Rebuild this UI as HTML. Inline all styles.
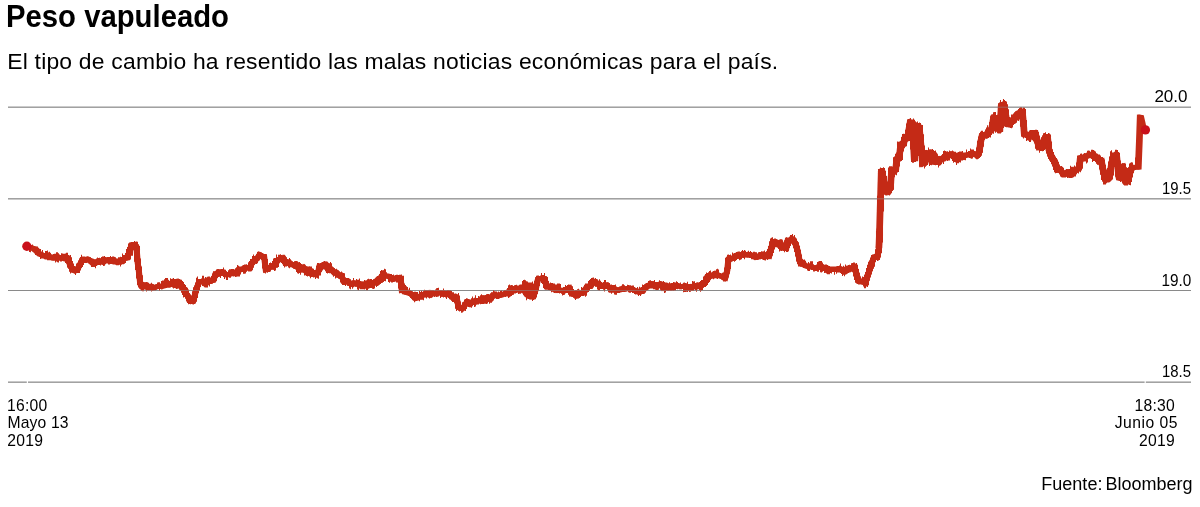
<!DOCTYPE html>
<html lang="es"><head><meta charset="utf-8"><title>Peso vapuleado</title>
<style>
html,body{margin:0;padding:0;background:#fff}
body{width:1200px;height:507px;overflow:hidden;font-family:"Liberation Sans",sans-serif}
svg{display:block}
text{font-family:"Liberation Sans",sans-serif;fill:#000}
.t{font-size:30.5px;font-weight:bold}
.s{font-size:22.9px}
.a{font-size:15.7px}
.f{font-size:18px;word-spacing:-2px}
</style></head><body>
<svg width="1200" height="507" viewBox="0 0 1200 507">
<rect width="1200" height="507" fill="#fff"/>
<text class="t" x="6" y="27" textLength="223" lengthAdjust="spacingAndGlyphs">Peso vapuleado</text>
<text class="s" x="7.2" y="68.8" textLength="771" lengthAdjust="spacing">El tipo de cambio ha resentido las malas noticias económicas para el país.</text>
<g class="a" text-anchor="end">
<text x="1187.6" y="102.3" textLength="33.2" lengthAdjust="spacingAndGlyphs">20.0</text>
<text x="1191" y="194" textLength="29" lengthAdjust="spacingAndGlyphs">19.5</text>
<text x="1191.2" y="285.6" textLength="29.8" lengthAdjust="spacingAndGlyphs">19.0</text>
<text x="1191" y="377.3" textLength="29" lengthAdjust="spacingAndGlyphs">18.5</text>
<text x="1174.7" y="410.8" textLength="40.1" lengthAdjust="spacing">18:30</text>
<text x="1177.4" y="428.4" textLength="62.7" lengthAdjust="spacing">Junio 05</text>
<text x="1174.7" y="446.2" textLength="35.6" lengthAdjust="spacing">2019</text>
</g>
<g class="a">
<text x="6.9" y="410.5" textLength="40.4" lengthAdjust="spacing">16:00</text>
<text x="7.5" y="428.3" textLength="61" lengthAdjust="spacing">Mayo 13</text>
<text x="7.3" y="446.2" textLength="35.6" lengthAdjust="spacing">2019</text>
</g>
<text class="f" x="1192.6" y="490" text-anchor="end" textLength="151.3" lengthAdjust="spacing">Fuente: Bloomberg</text>
<g fill="#8a8a8a">
<rect x="8" y="106.68" width="1183" height="1"/>
<rect x="8" y="198.33" width="1183" height="1"/>
<rect x="8" y="290" width="1183" height="1"/>
<rect x="8" y="381.66" width="1183" height="1"/>
</g>
<g fill="none" stroke="#c42a16" stroke-width="4.4" stroke-linejoin="miter" stroke-miterlimit="2">
<path d="M26.8 246.3L28.2 246.6L29.7 247.4L31.1 247.5L33.1 248.4L35.1 248.9L37.1 251.2L39.1 253.9L40.8 254.3L42.4 255.5L44.1 255.8L45.6 256.3L47.2 256.5L48.7 255.5L50.2 257.7L51.9 257.8L53.5 258.1L55.2 256.8L57.0 256.8L58.8 257.4L60.5 257.7L62.3 258.3L63.8 258.2L65.3 258.7L66.8 258.0L68.3 258.8L70.3 266.1L71.8 267.8L73.3 270.2L75.3 269.8L77.3 269.9L78.8 266.5L80.4 264.0L82.4 259.5L83.9 259.5L85.4 260.1L86.9 259.8L88.4 259.3L90.4 260.7L92.4 262.8L93.8 263.9L95.1 262.2L96.5 262.8L98.0 262.5L99.5 260.7L101.0 261.5L102.5 262.1L104.1 259.4L105.7 260.5L107.3 260.4L108.9 259.7L110.5 260.5L112.0 260.3L113.5 259.5L115.1 261.5L116.6 261.6L118.1 261.7L119.6 261.9L121.1 261.0L122.6 260.7L124.6 258.1L126.6 258.1L128.1 254.7L129.7 252.0L131.2 245.7L133.0 245.3L134.7 245.6L136.5 247.0L137.7 262.7L138.6 268.8L140.1 282.3L141.6 285.0L143.1 286.1L144.8 284.8L146.4 285.1L148.1 287.5L149.7 286.5L151.3 286.2L153.0 287.6L154.6 287.6L156.2 286.8L157.8 286.5L159.4 286.2L161.0 286.7L162.6 285.6L164.2 285.1L165.7 284.7L167.2 282.8L168.7 284.5L170.2 283.9L171.7 283.6L173.2 281.7L174.8 282.7L176.3 283.8L177.8 281.8L179.3 283.1L181.3 285.9L183.3 287.9L185.3 292.1L187.3 295.3L188.9 297.7L190.4 300.4L191.9 300.8L193.4 300.4L194.9 295.0L196.4 289.1L197.9 285.1L199.4 281.4L201.2 281.5L202.9 281.0L204.7 282.7L206.5 283.3L208.2 281.4L210.0 280.2L211.8 280.6L213.5 280.1L215.5 274.0L217.2 274.5L218.8 272.0L220.5 273.0L222.0 271.6L223.6 272.5L225.1 274.1L226.6 274.9L228.1 274.6L229.6 274.0L231.1 273.7L232.6 273.5L234.1 273.7L235.6 273.0L237.0 272.0L238.3 270.9L239.7 269.1L241.2 269.3L242.7 268.8L244.2 269.5L245.7 267.8L247.7 267.6L249.7 268.0L251.1 264.6L253.1 262.1L255.1 259.0L256.6 257.9L258.1 257.5L259.6 254.5L261.1 255.3L262.6 256.3L264.1 256.4L265.7 269.2L267.2 268.1L268.7 268.3L270.2 267.3L271.9 265.7L273.5 266.7L275.2 264.4L276.7 261.7L278.2 259.6L279.9 259.4L281.6 259.6L283.3 258.0L284.8 260.7L286.3 263.4L287.9 262.1L289.5 263.3L291.1 264.5L292.7 264.8L294.3 265.7L295.7 264.5L297.0 266.7L298.4 267.8L300.1 268.9L301.9 269.7L303.6 267.6L305.4 270.4L307.1 269.2L308.7 271.5L310.4 270.6L312.1 272.8L313.8 274.6L315.5 274.6L316.8 273.6L318.0 272.8L319.5 266.1L321.0 265.8L322.5 266.7L324.0 266.1L325.5 264.9L327.2 268.0L328.8 266.9L330.5 269.8L332.0 270.1L333.6 271.5L335.1 273.1L336.6 273.9L338.3 275.3L339.9 274.9L341.6 276.1L343.1 279.6L344.6 281.5L346.1 281.2L347.6 281.1L349.2 283.4L350.7 283.3L352.5 284.3L354.2 282.9L356.0 284.1L357.8 283.5L359.6 285.2L361.3 286.0L363.1 284.4L364.9 286.1L366.6 285.6L368.4 284.6L370.1 283.1L371.8 284.8L373.5 282.9L375.2 281.6L377.2 280.4L379.2 278.4L381.2 277.5L383.2 273.8L384.9 275.6L386.5 276.0L388.2 276.2L389.7 277.1L391.2 278.9L392.9 279.5L394.6 278.5L396.3 278.2L397.7 279.5L399.2 278.6L400.6 277.5L401.8 290.1L403.3 289.5L404.8 292.1L406.3 292.4L407.7 292.1L409.0 292.9L410.4 293.8L412.4 295.0L414.4 297.7L416.1 296.5L417.7 297.1L419.4 297.3L421.1 296.7L422.7 294.4L424.4 294.9L426.0 292.7L427.6 293.2L429.2 292.5L430.7 294.7L432.3 292.9L433.9 293.8L435.5 293.6L437.2 293.2L438.8 292.3L440.5 292.4L442.0 293.9L443.6 293.0L445.1 293.7L446.6 294.5L448.3 294.7L449.9 295.1L451.6 296.8L453.3 298.3L454.9 296.6L456.6 297.8L458.7 307.5L460.2 308.4L461.7 308.3L463.5 307.6L464.8 305.4L466.0 303.4L467.5 302.3L469.1 302.7L470.6 303.6L472.1 302.3L473.7 301.6L475.3 301.3L476.9 300.4L478.5 301.0L480.1 299.8L481.7 300.6L483.3 298.3L485.0 299.7L486.6 298.6L488.2 297.2L489.9 298.6L491.7 297.2L493.4 295.2L495.2 295.5L497.0 295.9L498.8 294.9L500.5 295.3L502.3 294.8L503.8 294.1L505.3 293.2L506.8 293.3L508.3 292.2L509.8 291.3L511.3 288.6L512.8 290.0L514.3 289.6L516.1 288.5L517.8 288.5L519.6 290.4L521.4 287.8L522.9 288.5L524.4 288.7L525.2 283.4L526.5 294.2L527.8 284.0L529.2 296.2L530.6 283.9L532.0 296.4L533.8 295.5L535.5 290.1L536.8 284.5L538.0 279.0L539.6 278.8L541.2 278.7L542.9 278.0L544.5 278.5L546.5 286.3L548.1 286.5L549.7 286.1L551.4 286.4L553.0 288.9L554.6 288.5L556.6 290.2L558.2 288.5L559.9 290.6L561.5 290.5L563.2 291.4L564.8 290.4L566.4 290.0L568.1 290.5L569.7 288.6L571.7 293.9L573.1 294.3L574.6 294.0L576.0 295.9L577.5 295.8L579.0 293.0L580.6 293.1L582.1 293.4L584.1 291.3L586.1 288.9L588.1 286.2L590.1 286.2L592.1 283.4L593.6 281.7L595.2 281.6L596.7 283.9L598.2 283.3L600.2 286.0L601.9 286.4L603.5 285.3L605.2 286.3L606.9 285.2L608.5 286.9L610.2 288.2L611.7 289.0L613.2 288.4L614.8 289.2L616.3 290.0L617.9 289.8L619.5 289.8L621.1 289.3L622.7 288.7L624.3 289.3L625.9 288.8L627.5 288.3L629.2 288.5L630.8 289.1L632.4 289.1L633.9 290.1L635.4 290.7L636.9 291.6L638.4 292.1L640.4 290.8L642.4 291.5L644.0 289.4L645.5 287.3L647.5 286.0L649.5 285.4L651.0 284.5L652.5 283.9L654.0 285.5L655.5 284.9L657.2 286.2L658.8 284.8L660.5 284.0L661.9 285.5L663.2 288.2L664.6 287.4L666.1 286.7L667.6 287.1L669.1 288.1L670.6 288.1L672.3 287.1L673.9 287.4L675.6 286.1L677.4 285.6L679.2 286.0L680.9 286.8L682.7 286.3L684.4 287.0L686.0 286.0L687.8 286.6L689.5 287.1L691.3 286.2L693.1 287.1L694.9 286.5L696.6 286.5L698.4 285.4L700.1 286.9L702.1 285.2L704.1 283.1L705.7 281.3L707.2 279.8L708.7 277.2L710.2 276.4L711.9 275.9L713.5 274.7L715.2 273.3L716.9 274.7L718.5 275.1L720.2 276.0L721.9 276.5L723.6 276.6L725.3 277.8L727.3 270.3L728.3 260.1L730.3 259.4L732.3 258.4L733.8 258.5L735.3 256.6L736.9 256.3L738.4 256.1L739.9 254.8L741.4 255.3L742.9 253.8L744.4 254.6L746.4 255.0L748.4 254.5L750.4 255.1L752.4 255.9L754.0 255.0L755.6 257.4L757.3 256.4L758.9 256.8L760.5 255.2L762.0 255.7L763.5 254.4L765.0 256.3L766.5 256.3L768.0 254.1L769.4 255.4L771.1 248.2L773.1 242.2L774.9 241.4L776.6 242.1L778.4 242.5L780.1 242.0L782.1 247.1L783.5 247.6L784.8 248.2L786.2 248.6L787.7 240.4L789.5 241.0L791.4 239.1L793.2 239.7L794.5 241.9L795.7 243.9L797.7 251.1L799.7 261.2L801.0 263.1L802.3 264.3L803.8 264.3L805.3 265.7L806.8 266.1L808.3 266.5L809.9 266.9L811.5 266.5L813.1 267.8L814.7 267.8L816.3 267.6L817.8 267.2L819.3 267.6L820.9 266.1L822.4 267.0L823.9 268.5L825.4 268.1L826.9 270.2L828.4 270.9L829.9 269.4L831.4 269.8L832.9 269.4L834.4 269.5L835.9 269.7L837.5 269.2L839.0 268.6L840.5 269.1L842.5 270.2L844.5 271.9L846.5 270.5L848.5 268.7L850.0 267.8L851.5 268.2L853.1 267.5L854.6 266.9L856.6 274.3L858.1 279.2L860.4 281.6L862.1 282.1L863.7 281.5L865.4 283.6L867.0 277.1L868.7 272.5L870.2 267.8L871.7 263.5L873.7 257.7L875.5 257.1L877.2 257.4L878.9 248.2L879.6 228.5"/><path d="M26.8 246.3L28.2 246.6L29.7 247.4L31.1 247.5L33.1 248.4L35.1 248.9L37.1 251.2L39.1 253.9L40.8 254.3L42.4 255.5L44.1 255.8L45.6 256.3L47.2 256.5L48.7 255.5L50.2 257.7L51.9 257.8L53.5 258.1L55.2 256.8L57.0 256.8L58.8 257.4L60.5 257.7L62.3 258.3L63.8 258.2L65.3 258.7L66.8 258.0L68.3 258.8L70.3 266.1L71.8 267.8L73.3 270.2L75.3 269.8L77.3 269.9L78.8 266.5L80.4 264.0L82.4 259.5L83.9 259.5L85.4 260.1L86.9 259.8L88.4 259.3L90.4 260.7L92.4 262.8L93.8 263.9L95.1 262.2L96.5 262.8L98.0 262.5L99.5 260.7L101.0 261.5L102.5 262.1L104.1 259.4L105.7 260.5L107.3 260.4L108.9 259.7L110.5 260.5L112.0 260.3L113.5 259.5L115.1 261.5L116.6 261.6L118.1 261.7L119.6 261.9L121.1 261.0L122.6 260.7L124.6 258.1L126.6 258.1L128.1 254.7L129.7 252.0L131.2 245.7L133.0 245.3L134.7 245.6L136.5 247.0L137.7 262.7L138.6 268.8L140.1 282.3L141.6 285.0L143.1 286.1L144.8 284.8L146.4 285.1L148.1 287.5L149.7 286.5L151.3 286.2L153.0 287.6L154.6 287.6L156.2 286.8L157.8 286.5L159.4 286.2L161.0 286.7L162.6 285.6L164.2 285.1L165.7 284.7L167.2 282.8L168.7 284.5L170.2 283.9L171.7 283.6L173.2 281.7L174.8 282.7L176.3 283.8L177.8 281.8L179.3 283.1L181.3 285.9L183.3 287.9L185.3 292.1L187.3 295.3L188.9 297.7L190.4 300.4L191.9 300.8L193.4 300.4L194.9 295.0L196.4 289.1L197.9 285.1L199.4 281.4L201.2 281.5L202.9 281.0L204.7 282.7L206.5 283.3L208.2 281.4L210.0 280.2L211.8 280.6L213.5 280.1L215.5 274.0L217.2 274.5L218.8 272.0L220.5 273.0L222.0 271.6L223.6 272.5L225.1 274.1L226.6 274.9L228.1 274.6L229.6 274.0L231.1 273.7L232.6 273.5L234.1 273.7L235.6 273.0L237.0 272.0L238.3 270.9L239.7 269.1L241.2 269.3L242.7 268.8L244.2 269.5L245.7 267.8L247.7 267.6L249.7 268.0L251.1 264.6L253.1 262.1L255.1 259.0L256.6 257.9L258.1 257.5L259.6 254.5L261.1 255.3L262.6 256.3L264.1 256.4L265.7 269.2L267.2 268.1L268.7 268.3L270.2 267.3L271.9 265.7L273.5 266.7L275.2 264.4L276.7 261.7L278.2 259.6L279.9 259.4L281.6 259.6L283.3 258.0L284.8 260.7L286.3 263.4L287.9 262.1L289.5 263.3L291.1 264.5L292.7 264.8L294.3 265.7L295.7 264.5L297.0 266.7L298.4 267.8L300.1 268.9L301.9 269.7L303.6 267.6L305.4 270.4L307.1 269.2L308.7 271.5L310.4 270.6L312.1 272.8L313.8 274.6L315.5 274.6L316.8 273.6L318.0 272.8L319.5 266.1L321.0 265.8L322.5 266.7L324.0 266.1L325.5 264.9L327.2 268.0L328.8 266.9L330.5 269.8L332.0 270.1L333.6 271.5L335.1 273.1L336.6 273.9L338.3 275.3L339.9 274.9L341.6 276.1L343.1 279.6L344.6 281.5L346.1 281.2L347.6 281.1L349.2 283.4L350.7 283.3L352.5 284.3L354.2 282.9L356.0 284.1L357.8 283.5L359.6 285.2L361.3 286.0L363.1 284.4L364.9 286.1L366.6 285.6L368.4 284.6L370.1 283.1L371.8 284.8L373.5 282.9L375.2 281.6L377.2 280.4L379.2 278.4L381.2 277.5L383.2 273.8L384.9 275.6L386.5 276.0L388.2 276.2L389.7 277.1L391.2 278.9L392.9 279.5L394.6 278.5L396.3 278.2L397.7 279.5L399.2 278.6L400.6 277.5L401.8 290.1L403.3 289.5L404.8 292.1L406.3 292.4L407.7 292.1L409.0 292.9L410.4 293.8L412.4 295.0L414.4 297.7L416.1 296.5L417.7 297.1L419.4 297.3L421.1 296.7L422.7 294.4L424.4 294.9L426.0 292.7L427.6 293.2L429.2 292.5L430.7 294.7L432.3 292.9L433.9 293.8L435.5 293.6L437.2 293.2L438.8 292.3L440.5 292.4L442.0 293.9L443.6 293.0L445.1 293.7L446.6 294.5L448.3 294.7L449.9 295.1L451.6 296.8L453.3 298.3L454.9 296.6L456.6 297.8L458.7 307.5L460.2 308.4L461.7 308.3L463.5 307.6L464.8 305.4L466.0 303.4L467.5 302.3L469.1 302.7L470.6 303.6L472.1 302.3L473.7 301.6L475.3 301.3L476.9 300.4L478.5 301.0L480.1 299.8L481.7 300.6L483.3 298.3L485.0 299.7L486.6 298.6L488.2 297.2L489.9 298.6L491.7 297.2L493.4 295.2L495.2 295.5L497.0 295.9L498.8 294.9L500.5 295.3L502.3 294.8L503.8 294.1L505.3 293.2L506.8 293.3L508.3 292.2L509.8 291.3L511.3 288.6L512.8 290.0L514.3 289.6L516.1 288.5L517.8 288.5L519.6 290.4L521.4 287.8L522.9 288.5L524.4 288.7L525.2 283.4L526.5 294.2L527.8 284.0L529.2 296.2L530.6 283.9L532.0 296.4L533.8 295.5L535.5 290.1L536.8 284.5L538.0 279.0L539.6 278.8L541.2 278.7L542.9 278.0L544.5 278.5L546.5 286.3L548.1 286.5L549.7 286.1L551.4 286.4L553.0 288.9L554.6 288.5L556.6 290.2L558.2 288.5L559.9 290.6L561.5 290.5L563.2 291.4L564.8 290.4L566.4 290.0L568.1 290.5L569.7 288.6L571.7 293.9L573.1 294.3L574.6 294.0L576.0 295.9L577.5 295.8L579.0 293.0L580.6 293.1L582.1 293.4L584.1 291.3L586.1 288.9L588.1 286.2L590.1 286.2L592.1 283.4L593.6 281.7L595.2 281.6L596.7 283.9L598.2 283.3L600.2 286.0L601.9 286.4L603.5 285.3L605.2 286.3L606.9 285.2L608.5 286.9L610.2 288.2L611.7 289.0L613.2 288.4L614.8 289.2L616.3 290.0L617.9 289.8L619.5 289.8L621.1 289.3L622.7 288.7L624.3 289.3L625.9 288.8L627.5 288.3L629.2 288.5L630.8 289.1L632.4 289.1L633.9 290.1L635.4 290.7L636.9 291.6L638.4 292.1L640.4 290.8L642.4 291.5L644.0 289.4L645.5 287.3L647.5 286.0L649.5 285.4L651.0 284.5L652.5 283.9L654.0 285.5L655.5 284.9L657.2 286.2L658.8 284.8L660.5 284.0L661.9 285.5L663.2 288.2L664.6 287.4L666.1 286.7L667.6 287.1L669.1 288.1L670.6 288.1L672.3 287.1L673.9 287.4L675.6 286.1L677.4 285.6L679.2 286.0L680.9 286.8L682.7 286.3L684.4 287.0L686.0 286.0L687.8 286.6L689.5 287.1L691.3 286.2L693.1 287.1L694.9 286.5L696.6 286.5L698.4 285.4L700.1 286.9L702.1 285.2L704.1 283.1L705.7 281.3L707.2 279.8L708.7 277.2L710.2 276.4L711.9 275.9L713.5 274.7L715.2 273.3L716.9 274.7L718.5 275.1L720.2 276.0L721.9 276.5L723.6 276.6L725.3 277.8L727.3 270.3L728.3 260.1L730.3 259.4L732.3 258.4L733.8 258.5L735.3 256.6L736.9 256.3L738.4 256.1L739.9 254.8L741.4 255.3L742.9 253.8L744.4 254.6L746.4 255.0L748.4 254.5L750.4 255.1L752.4 255.9L754.0 255.0L755.6 257.4L757.3 256.4L758.9 256.8L760.5 255.2L762.0 255.7L763.5 254.4L765.0 256.3L766.5 256.3L768.0 254.1L769.4 255.4L771.1 248.2L773.1 242.2L774.9 241.4L776.6 242.1L778.4 242.5L780.1 242.0L782.1 247.1L783.5 247.6L784.8 248.2L786.2 248.6L787.7 240.4L789.5 241.0L791.4 239.1L793.2 239.7L794.5 241.9L795.7 243.9L797.7 251.1L799.7 261.2L801.0 263.1L802.3 264.3L803.8 264.3L805.3 265.7L806.8 266.1L808.3 266.5L809.9 266.9L811.5 266.5L813.1 267.8L814.7 267.8L816.3 267.6L817.8 267.2L819.3 267.6L820.9 266.1L822.4 267.0L823.9 268.5L825.4 268.1L826.9 270.2L828.4 270.9L829.9 269.4L831.4 269.8L832.9 269.4L834.4 269.5L835.9 269.7L837.5 269.2L839.0 268.6L840.5 269.1L842.5 270.2L844.5 271.9L846.5 270.5L848.5 268.7L850.0 267.8L851.5 268.2L853.1 267.5L854.6 266.9L856.6 274.3L858.1 279.2L860.4 281.6L862.1 282.1L863.7 281.5L865.4 283.6L867.0 277.1L868.7 272.5L870.2 267.8L871.7 263.5L873.7 257.7L875.5 257.1L877.2 257.4L878.9 248.2L879.6 228.5" transform="translate(-0.85 0)"/><path d="M26.8 246.3L28.2 246.6L29.7 247.4L31.1 247.5L33.1 248.4L35.1 248.9L37.1 251.2L39.1 253.9L40.8 254.3L42.4 255.5L44.1 255.8L45.6 256.3L47.2 256.5L48.7 255.5L50.2 257.7L51.9 257.8L53.5 258.1L55.2 256.8L57.0 256.8L58.8 257.4L60.5 257.7L62.3 258.3L63.8 258.2L65.3 258.7L66.8 258.0L68.3 258.8L70.3 266.1L71.8 267.8L73.3 270.2L75.3 269.8L77.3 269.9L78.8 266.5L80.4 264.0L82.4 259.5L83.9 259.5L85.4 260.1L86.9 259.8L88.4 259.3L90.4 260.7L92.4 262.8L93.8 263.9L95.1 262.2L96.5 262.8L98.0 262.5L99.5 260.7L101.0 261.5L102.5 262.1L104.1 259.4L105.7 260.5L107.3 260.4L108.9 259.7L110.5 260.5L112.0 260.3L113.5 259.5L115.1 261.5L116.6 261.6L118.1 261.7L119.6 261.9L121.1 261.0L122.6 260.7L124.6 258.1L126.6 258.1L128.1 254.7L129.7 252.0L131.2 245.7L133.0 245.3L134.7 245.6L136.5 247.0L137.7 262.7L138.6 268.8L140.1 282.3L141.6 285.0L143.1 286.1L144.8 284.8L146.4 285.1L148.1 287.5L149.7 286.5L151.3 286.2L153.0 287.6L154.6 287.6L156.2 286.8L157.8 286.5L159.4 286.2L161.0 286.7L162.6 285.6L164.2 285.1L165.7 284.7L167.2 282.8L168.7 284.5L170.2 283.9L171.7 283.6L173.2 281.7L174.8 282.7L176.3 283.8L177.8 281.8L179.3 283.1L181.3 285.9L183.3 287.9L185.3 292.1L187.3 295.3L188.9 297.7L190.4 300.4L191.9 300.8L193.4 300.4L194.9 295.0L196.4 289.1L197.9 285.1L199.4 281.4L201.2 281.5L202.9 281.0L204.7 282.7L206.5 283.3L208.2 281.4L210.0 280.2L211.8 280.6L213.5 280.1L215.5 274.0L217.2 274.5L218.8 272.0L220.5 273.0L222.0 271.6L223.6 272.5L225.1 274.1L226.6 274.9L228.1 274.6L229.6 274.0L231.1 273.7L232.6 273.5L234.1 273.7L235.6 273.0L237.0 272.0L238.3 270.9L239.7 269.1L241.2 269.3L242.7 268.8L244.2 269.5L245.7 267.8L247.7 267.6L249.7 268.0L251.1 264.6L253.1 262.1L255.1 259.0L256.6 257.9L258.1 257.5L259.6 254.5L261.1 255.3L262.6 256.3L264.1 256.4L265.7 269.2L267.2 268.1L268.7 268.3L270.2 267.3L271.9 265.7L273.5 266.7L275.2 264.4L276.7 261.7L278.2 259.6L279.9 259.4L281.6 259.6L283.3 258.0L284.8 260.7L286.3 263.4L287.9 262.1L289.5 263.3L291.1 264.5L292.7 264.8L294.3 265.7L295.7 264.5L297.0 266.7L298.4 267.8L300.1 268.9L301.9 269.7L303.6 267.6L305.4 270.4L307.1 269.2L308.7 271.5L310.4 270.6L312.1 272.8L313.8 274.6L315.5 274.6L316.8 273.6L318.0 272.8L319.5 266.1L321.0 265.8L322.5 266.7L324.0 266.1L325.5 264.9L327.2 268.0L328.8 266.9L330.5 269.8L332.0 270.1L333.6 271.5L335.1 273.1L336.6 273.9L338.3 275.3L339.9 274.9L341.6 276.1L343.1 279.6L344.6 281.5L346.1 281.2L347.6 281.1L349.2 283.4L350.7 283.3L352.5 284.3L354.2 282.9L356.0 284.1L357.8 283.5L359.6 285.2L361.3 286.0L363.1 284.4L364.9 286.1L366.6 285.6L368.4 284.6L370.1 283.1L371.8 284.8L373.5 282.9L375.2 281.6L377.2 280.4L379.2 278.4L381.2 277.5L383.2 273.8L384.9 275.6L386.5 276.0L388.2 276.2L389.7 277.1L391.2 278.9L392.9 279.5L394.6 278.5L396.3 278.2L397.7 279.5L399.2 278.6L400.6 277.5L401.8 290.1L403.3 289.5L404.8 292.1L406.3 292.4L407.7 292.1L409.0 292.9L410.4 293.8L412.4 295.0L414.4 297.7L416.1 296.5L417.7 297.1L419.4 297.3L421.1 296.7L422.7 294.4L424.4 294.9L426.0 292.7L427.6 293.2L429.2 292.5L430.7 294.7L432.3 292.9L433.9 293.8L435.5 293.6L437.2 293.2L438.8 292.3L440.5 292.4L442.0 293.9L443.6 293.0L445.1 293.7L446.6 294.5L448.3 294.7L449.9 295.1L451.6 296.8L453.3 298.3L454.9 296.6L456.6 297.8L458.7 307.5L460.2 308.4L461.7 308.3L463.5 307.6L464.8 305.4L466.0 303.4L467.5 302.3L469.1 302.7L470.6 303.6L472.1 302.3L473.7 301.6L475.3 301.3L476.9 300.4L478.5 301.0L480.1 299.8L481.7 300.6L483.3 298.3L485.0 299.7L486.6 298.6L488.2 297.2L489.9 298.6L491.7 297.2L493.4 295.2L495.2 295.5L497.0 295.9L498.8 294.9L500.5 295.3L502.3 294.8L503.8 294.1L505.3 293.2L506.8 293.3L508.3 292.2L509.8 291.3L511.3 288.6L512.8 290.0L514.3 289.6L516.1 288.5L517.8 288.5L519.6 290.4L521.4 287.8L522.9 288.5L524.4 288.7L525.2 283.4L526.5 294.2L527.8 284.0L529.2 296.2L530.6 283.9L532.0 296.4L533.8 295.5L535.5 290.1L536.8 284.5L538.0 279.0L539.6 278.8L541.2 278.7L542.9 278.0L544.5 278.5L546.5 286.3L548.1 286.5L549.7 286.1L551.4 286.4L553.0 288.9L554.6 288.5L556.6 290.2L558.2 288.5L559.9 290.6L561.5 290.5L563.2 291.4L564.8 290.4L566.4 290.0L568.1 290.5L569.7 288.6L571.7 293.9L573.1 294.3L574.6 294.0L576.0 295.9L577.5 295.8L579.0 293.0L580.6 293.1L582.1 293.4L584.1 291.3L586.1 288.9L588.1 286.2L590.1 286.2L592.1 283.4L593.6 281.7L595.2 281.6L596.7 283.9L598.2 283.3L600.2 286.0L601.9 286.4L603.5 285.3L605.2 286.3L606.9 285.2L608.5 286.9L610.2 288.2L611.7 289.0L613.2 288.4L614.8 289.2L616.3 290.0L617.9 289.8L619.5 289.8L621.1 289.3L622.7 288.7L624.3 289.3L625.9 288.8L627.5 288.3L629.2 288.5L630.8 289.1L632.4 289.1L633.9 290.1L635.4 290.7L636.9 291.6L638.4 292.1L640.4 290.8L642.4 291.5L644.0 289.4L645.5 287.3L647.5 286.0L649.5 285.4L651.0 284.5L652.5 283.9L654.0 285.5L655.5 284.9L657.2 286.2L658.8 284.8L660.5 284.0L661.9 285.5L663.2 288.2L664.6 287.4L666.1 286.7L667.6 287.1L669.1 288.1L670.6 288.1L672.3 287.1L673.9 287.4L675.6 286.1L677.4 285.6L679.2 286.0L680.9 286.8L682.7 286.3L684.4 287.0L686.0 286.0L687.8 286.6L689.5 287.1L691.3 286.2L693.1 287.1L694.9 286.5L696.6 286.5L698.4 285.4L700.1 286.9L702.1 285.2L704.1 283.1L705.7 281.3L707.2 279.8L708.7 277.2L710.2 276.4L711.9 275.9L713.5 274.7L715.2 273.3L716.9 274.7L718.5 275.1L720.2 276.0L721.9 276.5L723.6 276.6L725.3 277.8L727.3 270.3L728.3 260.1L730.3 259.4L732.3 258.4L733.8 258.5L735.3 256.6L736.9 256.3L738.4 256.1L739.9 254.8L741.4 255.3L742.9 253.8L744.4 254.6L746.4 255.0L748.4 254.5L750.4 255.1L752.4 255.9L754.0 255.0L755.6 257.4L757.3 256.4L758.9 256.8L760.5 255.2L762.0 255.7L763.5 254.4L765.0 256.3L766.5 256.3L768.0 254.1L769.4 255.4L771.1 248.2L773.1 242.2L774.9 241.4L776.6 242.1L778.4 242.5L780.1 242.0L782.1 247.1L783.5 247.6L784.8 248.2L786.2 248.6L787.7 240.4L789.5 241.0L791.4 239.1L793.2 239.7L794.5 241.9L795.7 243.9L797.7 251.1L799.7 261.2L801.0 263.1L802.3 264.3L803.8 264.3L805.3 265.7L806.8 266.1L808.3 266.5L809.9 266.9L811.5 266.5L813.1 267.8L814.7 267.8L816.3 267.6L817.8 267.2L819.3 267.6L820.9 266.1L822.4 267.0L823.9 268.5L825.4 268.1L826.9 270.2L828.4 270.9L829.9 269.4L831.4 269.8L832.9 269.4L834.4 269.5L835.9 269.7L837.5 269.2L839.0 268.6L840.5 269.1L842.5 270.2L844.5 271.9L846.5 270.5L848.5 268.7L850.0 267.8L851.5 268.2L853.1 267.5L854.6 266.9L856.6 274.3L858.1 279.2L860.4 281.6L862.1 282.1L863.7 281.5L865.4 283.6L867.0 277.1L868.7 272.5L870.2 267.8L871.7 263.5L873.7 257.7L875.5 257.1L877.2 257.4L878.9 248.2L879.6 228.5" transform="translate(0.85 0)"/>
<path d="M878.9 248.2L879.6 228.5L881.3 170.5L882.0 171.4L883.5 179.4L885.1 188.2L887.1 191.9L888.8 189.8L890.4 188.4L891.6 169.9L893.0 171.0L894.3 169.3L895.7 170.3L896.7 159.0L898.0 158.0L899.2 157.8L900.7 144.5L902.2 144.2L903.7 143.6L905.2 136.7L906.5 137.0L907.7 137.1L909.0 128.9L910.2 122.0L912.3 122.9L914.3 160.3L915.8 143.3L917.3 126.0L919.3 127.2L920.9 144.6L922.5 163.7L923.8 162.9L925.0 162.5L926.6 152.9L928.3 153.7L930.0 152.7L932.0 162.8L934.0 153.7L936.0 162.5L938.0 162.7L940.4 158.7L941.9 159.4L943.4 158.4L945.5 155.9L947.2 155.1L948.8 155.5L950.5 154.1L952.1 155.6L953.8 155.4L955.4 159.2L957.0 159.9L958.5 157.3L960.0 156.4L961.6 155.6L963.1 157.0L964.6 155.1L966.1 155.2L967.6 154.8L969.1 154.7L970.6 153.8L972.1 154.7L973.6 153.6L975.1 154.7L976.6 155.0L977.9 153.9L979.2 152.0L980.7 142.0L982.2 135.0L983.8 134.5L985.5 136.0L987.1 135.3L989.1 130.2L990.4 129.6L991.6 129.2L993.6 117.4L995.1 117.3L996.6 117.8L997.6 129.3L999.9 129.6L1001.3 105.1L1003.6 104.1L1005.8 115.1L1007.2 123.8L1008.5 122.3L1009.7 123.8L1011.7 120.2L1013.2 119.3L1014.7 118.4L1016.2 116.0L1017.6 114.2L1019.8 113.0L1021.1 113.7L1022.4 111.9L1023.6 125.0L1024.3 134.5L1026.0 134.4L1027.8 135.0L1029.5 136.9L1030.8 134.5L1032.2 132.9L1033.8 133.4L1035.3 133.0L1037.2 140.3L1039.0 147.5L1040.2 146.9L1041.5 148.5L1043.0 143.9L1044.6 138.9L1045.6 136.8L1047.6 137.4L1048.9 149.9L1050.2 153.7L1051.6 157.5L1053.4 160.0L1055.2 163.2L1057.2 169.2L1058.7 170.4L1060.2 169.4L1061.7 171.9L1063.2 174.0L1064.7 174.2L1066.2 174.2L1068.2 171.9L1070.2 173.3L1071.6 172.5L1072.9 170.2L1074.3 171.8L1075.8 170.1L1077.3 169.5L1079.3 167.5L1080.3 157.8L1082.3 157.7L1084.3 158.7L1086.0 156.5L1087.7 155.5L1089.4 154.6L1091.1 154.7L1092.7 155.9L1094.4 156.9L1095.9 157.7L1097.4 159.4L1099.4 161.8L1101.4 160.8L1103.4 172.0L1105.5 179.4L1107.5 179.2L1109.5 177.5L1111.5 163.9L1113.5 155.2L1115.0 155.3L1116.5 154.1L1118.5 174.2L1119.0 178.2L1120.5 167.3L1122.6 166.1L1123.8 172.7L1125.1 179.2L1127.1 182.1L1128.3 178.1L1129.6 174.1L1131.6 168.4L1133.1 167.1L1134.6 167.3L1136.4 167.3L1138.3 167.3L1139.4 139.9L1140.2 117.0L1140.8 117.1L1142.2 123.1L1143.6 129.9"/><path d="M878.9 248.2L879.6 228.5L881.3 170.5L882.0 171.4L883.5 179.4L885.1 188.2L887.1 191.9L888.8 189.8L890.4 188.4L891.6 169.9L893.0 171.0L894.3 169.3L895.7 170.3L896.7 159.0L898.0 158.0L899.2 157.8L900.7 144.5L902.2 144.2L903.7 143.6L905.2 136.7L906.5 137.0L907.7 137.1L909.0 128.9L910.2 122.0L912.3 122.9L914.3 160.3L915.8 143.3L917.3 126.0L919.3 127.2L920.9 144.6L922.5 163.7L923.8 162.9L925.0 162.5L926.6 152.9L928.3 153.7L930.0 152.7L932.0 162.8L934.0 153.7L936.0 162.5L938.0 162.7L940.4 158.7L941.9 159.4L943.4 158.4L945.5 155.9L947.2 155.1L948.8 155.5L950.5 154.1L952.1 155.6L953.8 155.4L955.4 159.2L957.0 159.9L958.5 157.3L960.0 156.4L961.6 155.6L963.1 157.0L964.6 155.1L966.1 155.2L967.6 154.8L969.1 154.7L970.6 153.8L972.1 154.7L973.6 153.6L975.1 154.7L976.6 155.0L977.9 153.9L979.2 152.0L980.7 142.0L982.2 135.0L983.8 134.5L985.5 136.0L987.1 135.3L989.1 130.2L990.4 129.6L991.6 129.2L993.6 117.4L995.1 117.3L996.6 117.8L997.6 129.3L999.9 129.6L1001.3 105.1L1003.6 104.1L1005.8 115.1L1007.2 123.8L1008.5 122.3L1009.7 123.8L1011.7 120.2L1013.2 119.3L1014.7 118.4L1016.2 116.0L1017.6 114.2L1019.8 113.0L1021.1 113.7L1022.4 111.9L1023.6 125.0L1024.3 134.5L1026.0 134.4L1027.8 135.0L1029.5 136.9L1030.8 134.5L1032.2 132.9L1033.8 133.4L1035.3 133.0L1037.2 140.3L1039.0 147.5L1040.2 146.9L1041.5 148.5L1043.0 143.9L1044.6 138.9L1045.6 136.8L1047.6 137.4L1048.9 149.9L1050.2 153.7L1051.6 157.5L1053.4 160.0L1055.2 163.2L1057.2 169.2L1058.7 170.4L1060.2 169.4L1061.7 171.9L1063.2 174.0L1064.7 174.2L1066.2 174.2L1068.2 171.9L1070.2 173.3L1071.6 172.5L1072.9 170.2L1074.3 171.8L1075.8 170.1L1077.3 169.5L1079.3 167.5L1080.3 157.8L1082.3 157.7L1084.3 158.7L1086.0 156.5L1087.7 155.5L1089.4 154.6L1091.1 154.7L1092.7 155.9L1094.4 156.9L1095.9 157.7L1097.4 159.4L1099.4 161.8L1101.4 160.8L1103.4 172.0L1105.5 179.4L1107.5 179.2L1109.5 177.5L1111.5 163.9L1113.5 155.2L1115.0 155.3L1116.5 154.1L1118.5 174.2L1119.0 178.2L1120.5 167.3L1122.6 166.1L1123.8 172.7L1125.1 179.2L1127.1 182.1L1128.3 178.1L1129.6 174.1L1131.6 168.4L1133.1 167.1L1134.6 167.3L1136.4 167.3L1138.3 167.3L1139.4 139.9L1140.2 117.0L1140.8 117.1L1142.2 123.1L1143.6 129.9" transform="translate(-1.15 0)"/><path d="M878.9 248.2L879.6 228.5L881.3 170.5L882.0 171.4L883.5 179.4L885.1 188.2L887.1 191.9L888.8 189.8L890.4 188.4L891.6 169.9L893.0 171.0L894.3 169.3L895.7 170.3L896.7 159.0L898.0 158.0L899.2 157.8L900.7 144.5L902.2 144.2L903.7 143.6L905.2 136.7L906.5 137.0L907.7 137.1L909.0 128.9L910.2 122.0L912.3 122.9L914.3 160.3L915.8 143.3L917.3 126.0L919.3 127.2L920.9 144.6L922.5 163.7L923.8 162.9L925.0 162.5L926.6 152.9L928.3 153.7L930.0 152.7L932.0 162.8L934.0 153.7L936.0 162.5L938.0 162.7L940.4 158.7L941.9 159.4L943.4 158.4L945.5 155.9L947.2 155.1L948.8 155.5L950.5 154.1L952.1 155.6L953.8 155.4L955.4 159.2L957.0 159.9L958.5 157.3L960.0 156.4L961.6 155.6L963.1 157.0L964.6 155.1L966.1 155.2L967.6 154.8L969.1 154.7L970.6 153.8L972.1 154.7L973.6 153.6L975.1 154.7L976.6 155.0L977.9 153.9L979.2 152.0L980.7 142.0L982.2 135.0L983.8 134.5L985.5 136.0L987.1 135.3L989.1 130.2L990.4 129.6L991.6 129.2L993.6 117.4L995.1 117.3L996.6 117.8L997.6 129.3L999.9 129.6L1001.3 105.1L1003.6 104.1L1005.8 115.1L1007.2 123.8L1008.5 122.3L1009.7 123.8L1011.7 120.2L1013.2 119.3L1014.7 118.4L1016.2 116.0L1017.6 114.2L1019.8 113.0L1021.1 113.7L1022.4 111.9L1023.6 125.0L1024.3 134.5L1026.0 134.4L1027.8 135.0L1029.5 136.9L1030.8 134.5L1032.2 132.9L1033.8 133.4L1035.3 133.0L1037.2 140.3L1039.0 147.5L1040.2 146.9L1041.5 148.5L1043.0 143.9L1044.6 138.9L1045.6 136.8L1047.6 137.4L1048.9 149.9L1050.2 153.7L1051.6 157.5L1053.4 160.0L1055.2 163.2L1057.2 169.2L1058.7 170.4L1060.2 169.4L1061.7 171.9L1063.2 174.0L1064.7 174.2L1066.2 174.2L1068.2 171.9L1070.2 173.3L1071.6 172.5L1072.9 170.2L1074.3 171.8L1075.8 170.1L1077.3 169.5L1079.3 167.5L1080.3 157.8L1082.3 157.7L1084.3 158.7L1086.0 156.5L1087.7 155.5L1089.4 154.6L1091.1 154.7L1092.7 155.9L1094.4 156.9L1095.9 157.7L1097.4 159.4L1099.4 161.8L1101.4 160.8L1103.4 172.0L1105.5 179.4L1107.5 179.2L1109.5 177.5L1111.5 163.9L1113.5 155.2L1115.0 155.3L1116.5 154.1L1118.5 174.2L1119.0 178.2L1120.5 167.3L1122.6 166.1L1123.8 172.7L1125.1 179.2L1127.1 182.1L1128.3 178.1L1129.6 174.1L1131.6 168.4L1133.1 167.1L1134.6 167.3L1136.4 167.3L1138.3 167.3L1139.4 139.9L1140.2 117.0L1140.8 117.1L1142.2 123.1L1143.6 129.9" transform="translate(1.15 0)"/>
</g>
<path d="M29.5 244.4v7.5M30.5 244.8v7.4M31.5 245.1v5.7M32.5 244.5v7.2M33.5 245.8v6.7M34.5 246.1v7.5M35.5 246.4v8.5M36.5 246.6v8.6M37.5 246.6v9.7M38.5 247.7v8.8M39.5 248.8v8.3M40.5 249.1v9.9M41.5 251.5v7.1M42.5 250.1v8.3M43.5 252.5v6.1M44.5 253.1v6.2M45.5 250.9v8.5M46.5 251.0v8.4M47.5 250.6v9.7M48.5 252.5v7.8M49.5 251.8v8.4M50.5 253.1v7.1M51.5 254.4v6.1M52.5 254.4v6.2M53.5 254.0v6.5M54.5 253.8v6.7M55.5 253.8v8.6M56.5 252.2v9.4M57.5 252.2v10.1M58.5 253.3v9.2M59.5 254.6v6.2M60.5 254.9v6.5M61.5 253.2v8.4M62.5 253.5v7.2M63.5 253.7v7.6M64.5 253.7v7.8M65.5 253.6v9.3M66.5 252.8v10.9M67.5 252.8v14.7M68.5 255.0v13.7M69.5 255.4v16.4M70.5 255.0v18.4M71.5 257.3v14.9M72.5 260.9v11.5M73.5 263.4v9.9M74.5 265.9v7.8M75.5 266.4v8.5M76.5 263.4v9.8M77.5 262.8v10.3M78.5 260.6v12.4M79.5 258.6v14.3M80.5 257.0v13.2M81.5 254.7v13.2M82.5 256.6v10.3M83.5 256.6v8.5M84.5 256.6v6.3M85.5 256.7v6.2M86.5 256.5v6.4M87.5 256.3v6.4M88.5 256.6v6.8M89.5 256.9v7.3M90.5 257.3v8.0M91.5 257.9v9.0M92.5 258.6v8.4M93.5 258.7v8.1M94.5 259.3v7.4M95.5 259.3v9.0M96.5 258.6v7.3M97.5 257.6v7.6M98.5 258.0v7.1M99.5 257.8v7.2M100.5 258.6v6.8M101.5 257.0v7.5M102.5 256.7v8.1M103.5 257.2v8.8M104.5 256.1v9.6M105.5 257.0v7.2M106.5 257.3v6.3M107.5 257.0v6.6M108.5 257.0v7.4M109.5 257.0v7.5M110.5 256.1v7.9M111.5 257.1v7.0M112.5 256.5v7.7M113.5 256.5v8.1M114.5 257.3v7.3M115.5 257.5v7.2M116.5 258.4v6.8M117.5 258.5v6.8M118.5 257.3v8.0M119.5 257.3v7.4M120.5 256.8v9.6M121.5 257.1v7.7M122.5 253.4v10.8M123.5 255.1v9.2M124.5 255.0v8.8M125.5 253.0v9.9M126.5 249.0v11.7M127.5 247.1v13.5M128.5 243.4v16.8M129.5 242.6v17.7M130.5 242.3v17.3M131.5 242.0v13.7M132.5 242.0v13.7M133.5 242.0v8.3M134.5 241.1v20.6M135.5 241.7v28.4M136.5 241.6v37.0M137.5 241.7v43.6M138.5 244.3v43.1M139.5 246.1v42.6M140.5 258.6v30.9M141.5 266.6v24.5M142.5 275.3v16.0M143.5 282.1v9.2M144.5 282.4v7.0M145.5 282.4v7.3M146.5 282.1v9.3M147.5 282.3v7.3M148.5 282.7v7.8M149.5 283.8v6.6M150.5 283.7v6.9M151.5 282.7v8.8M152.5 283.9v7.0M153.5 284.3v6.5M154.5 284.7v5.8M155.5 284.4v6.2M156.5 284.2v5.6M157.5 282.4v6.9M158.5 282.3v6.8M159.5 282.3v8.6M160.5 283.7v5.3M161.5 280.9v8.5M162.5 280.6v8.7M163.5 280.4v8.4M164.5 279.2v9.4M165.5 278.0v10.2M166.5 278.1v9.9M167.5 278.1v9.6M168.5 280.4v7.4M169.5 280.9v6.9M170.5 278.2v9.3M171.5 278.9v8.2M172.5 278.7v8.7M173.5 277.9v10.5M174.5 279.1v9.0M175.5 279.1v9.1M176.5 278.9v10.0M177.5 278.8v10.0M178.5 278.8v9.7M179.5 279.0v10.7M180.5 279.6v11.0M181.5 279.8v12.9M182.5 281.1v13.8M183.5 281.9v15.5M184.5 283.9v13.2M185.5 284.9v13.8M186.5 287.1v14.3M187.5 287.7v15.4M188.5 289.6v14.6M189.5 293.0v10.9M190.5 294.6v9.6M191.5 295.6v8.3M192.5 291.2v13.0M193.5 287.3v17.2M194.5 285.4v18.5M195.5 282.5v21.0M196.5 277.8v23.9M197.5 276.6v21.5M198.5 279.1v13.8M199.5 279.0v11.2M200.5 278.9v8.0M201.5 278.6v5.8M202.5 275.8v10.2M203.5 275.8v10.4M204.5 278.5v8.8M205.5 277.1v10.4M206.5 277.4v10.2M207.5 276.7v10.8M208.5 276.6v8.5M209.5 276.5v10.1M210.5 277.5v6.4M211.5 276.1v7.8M212.5 273.5v10.2M213.5 271.6v11.4M214.5 271.8v10.9M215.5 270.8v11.7M216.5 269.5v11.5M217.5 269.2v8.7M218.5 269.1v7.9M219.5 269.8v7.0M220.5 269.5v8.4M221.5 269.2v6.7M222.5 269.2v6.9M223.5 267.6v9.3M224.5 269.5v9.5M225.5 269.8v7.5M226.5 271.3v8.8M227.5 272.1v8.0M228.5 270.3v7.0M229.5 269.3v8.4M230.5 269.2v8.5M231.5 269.1v7.5M232.5 269.0v7.3M233.5 269.1v7.3M234.5 269.6v6.7M235.5 268.3v8.6M236.5 267.2v9.6M237.5 265.1v11.3M238.5 265.8v10.6M239.5 266.7v9.7M240.5 266.7v7.8M241.5 266.5v5.7M242.5 265.4v6.5M243.5 265.0v8.7M244.5 264.6v9.2M245.5 264.5v8.9M246.5 264.3v7.5M247.5 265.2v5.6M248.5 262.2v9.3M249.5 260.9v10.6M250.5 259.0v12.4M251.5 258.9v12.3M252.5 256.0v14.3M253.5 254.5v13.3M254.5 256.1v9.0M255.5 255.6v8.1M256.5 254.1v10.0M257.5 251.9v11.4M258.5 251.5v9.7M259.5 252.2v8.2M260.5 252.1v6.8M261.5 252.6v7.3M262.5 253.1v15.4M263.5 253.7v17.9M264.5 253.9v18.3M265.5 253.9v19.7M266.5 254.5v17.7M267.5 259.1v13.6M268.5 265.0v7.1M269.5 263.0v9.0M270.5 262.6v9.0M271.5 263.4v6.3M272.5 261.1v8.7M273.5 258.4v11.3M274.5 258.0v12.9M275.5 258.0v12.5M276.5 254.5v13.3M277.5 257.1v10.6M278.5 254.7v12.3M279.5 254.7v8.5M280.5 254.2v8.0M281.5 255.1v7.8M282.5 255.9v8.3M283.5 255.9v10.0M284.5 255.9v11.5M285.5 256.3v9.5M286.5 257.3v8.6M287.5 259.1v6.8M288.5 259.8v7.6M289.5 257.9v10.3M290.5 259.3v8.0M291.5 260.5v6.7M292.5 261.3v6.5M293.5 261.9v6.8M294.5 261.2v7.9M295.5 261.1v8.3M296.5 261.1v10.8M297.5 261.4v11.8M298.5 262.3v11.4M299.5 262.1v10.8M300.5 263.0v11.7M301.5 264.0v8.4M302.5 265.2v7.2M303.5 265.1v7.7M304.5 265.1v10.3M305.5 265.4v9.9M306.5 266.3v9.6M307.5 267.0v9.4M308.5 267.1v9.0M309.5 266.3v10.3M310.5 266.5v11.7M311.5 266.5v10.5M312.5 268.5v8.2M313.5 268.8v8.6M314.5 270.1v7.2M315.5 270.1v8.8M316.5 265.7v12.0M317.5 263.1v15.1M318.5 263.1v15.6M319.5 263.5v12.0M320.5 263.0v12.5M321.5 262.6v9.4M322.5 261.9v8.6M323.5 261.4v7.9M324.5 261.1v8.5M325.5 261.6v9.7M326.5 261.6v11.5M327.5 261.8v11.6M328.5 262.8v10.1M329.5 263.3v10.0M330.5 262.0v11.2M331.5 263.3v10.9M332.5 266.6v8.6M333.5 267.2v9.5M334.5 267.9v7.9M335.5 269.3v9.2M336.5 268.8v8.7M337.5 269.7v8.0M338.5 270.3v8.5M339.5 271.2v7.8M340.5 272.3v10.2M341.5 271.5v12.3M342.5 272.4v12.5M343.5 273.1v12.0M344.5 273.3v11.8M345.5 277.5v8.6M346.5 278.1v6.5M347.5 278.1v7.4M348.5 278.1v7.5M349.5 278.8v9.8M350.5 279.2v10.0M351.5 280.5v6.5M352.5 280.3v8.5M353.5 277.9v9.4M354.5 280.5v5.8M355.5 280.5v6.2M356.5 278.9v7.8M357.5 279.7v9.9M358.5 279.7v10.5M359.5 278.5v10.0M360.5 281.1v8.1M361.5 281.3v7.9M362.5 281.5v7.7M363.5 281.5v7.8M364.5 280.0v9.4M365.5 280.5v8.0M366.5 280.2v10.1M367.5 279.3v10.9M368.5 278.8v9.9M369.5 279.3v8.9M370.5 278.9v9.1M371.5 278.9v9.2M372.5 280.0v8.8M373.5 279.3v9.8M374.5 278.7v9.8M375.5 277.7v8.0M376.5 276.7v10.3M377.5 275.9v10.2M378.5 275.5v9.9M379.5 274.1v10.7M380.5 271.0v13.1M381.5 270.1v13.0M382.5 271.6v11.1M383.5 270.5v11.6M384.5 268.7v12.3M385.5 269.2v12.1M386.5 272.3v6.2M387.5 273.4v5.6M388.5 273.5v8.5M389.5 273.8v9.0M390.5 273.9v7.6M391.5 274.1v8.3M392.5 275.0v7.5M393.5 274.5v7.3M394.5 275.6v6.0M395.5 274.9v6.4M396.5 274.7v7.8M397.5 274.7v7.8M398.5 275.0v13.4M399.5 274.7v18.6M400.5 274.7v18.1M401.5 274.5v18.7M402.5 275.8v18.5M403.5 275.7v18.6M404.5 283.4v11.1M405.5 284.9v9.8M406.5 286.2v9.0M407.5 286.9v8.7M408.5 289.8v6.2M409.5 287.8v8.8M410.5 290.3v7.7M411.5 291.1v7.7M412.5 291.3v8.4M413.5 292.1v8.4M414.5 291.8v10.5M415.5 291.8v9.4M416.5 291.9v9.0M417.5 292.0v8.8M418.5 293.8v6.8M419.5 290.9v10.3M420.5 292.1v7.4M421.5 290.7v9.1M422.5 292.1v7.6M423.5 291.2v9.0M424.5 289.8v7.5M425.5 290.3v7.0M426.5 290.3v8.2M427.5 290.5v6.8M428.5 290.1v7.6M429.5 290.1v8.5M430.5 290.1v7.2M431.5 290.3v7.0M432.5 290.3v6.9M433.5 290.3v6.2M434.5 290.7v6.4M435.5 289.4v7.2M436.5 288.3v8.7M437.5 287.9v8.9M438.5 287.8v8.6M439.5 289.9v5.6M440.5 290.0v7.9M441.5 290.0v6.7M442.5 290.4v6.4M443.5 288.4v9.0M444.5 290.3v6.8M445.5 290.4v7.0M446.5 290.4v8.5M447.5 290.1v7.1M448.5 289.9v8.2M449.5 290.3v8.9M450.5 290.2v9.4M451.5 291.1v9.6M452.5 292.3v9.7M453.5 292.2v9.7M454.5 293.8v9.5M455.5 293.6v15.1M456.5 293.7v17.2M457.5 294.3v15.6M458.5 292.9v17.5M459.5 295.4v16.1M460.5 301.4v9.6M461.5 305.1v7.7M462.5 302.3v10.1M463.5 301.8v9.8M464.5 299.6v11.1M465.5 298.9v12.2M466.5 298.3v10.7M467.5 298.5v8.1M468.5 299.1v7.9M469.5 299.3v8.0M470.5 299.4v7.9M471.5 298.2v9.5M472.5 296.5v9.8M473.5 298.2v6.9M474.5 297.8v9.1M475.5 295.3v11.3M476.5 297.9v6.9M477.5 297.9v6.6M478.5 295.9v8.5M479.5 296.5v6.9M480.5 295.2v9.1M481.5 294.3v9.8M482.5 295.5v8.6M483.5 295.5v8.4M484.5 295.3v8.5M485.5 295.0v8.8M486.5 294.2v9.8M487.5 294.0v9.4M488.5 294.0v8.0M489.5 294.4v9.4M490.5 293.2v9.5M491.5 292.3v10.4M492.5 292.3v9.1M493.5 290.1v10.5M494.5 291.3v7.5M495.5 291.5v6.7M496.5 291.4v7.7M497.5 292.4v6.7M498.5 291.6v7.4M499.5 292.2v6.3M500.5 290.9v7.0M501.5 290.5v7.3M502.5 291.8v5.8M503.5 291.2v6.1M504.5 290.0v6.8M505.5 289.9v7.2M506.5 289.5v7.0M507.5 288.0v8.6M508.5 285.3v12.8M509.5 284.4v12.9M510.5 286.3v10.3M511.5 284.9v11.1M512.5 285.3v9.7M513.5 286.1v8.7M514.5 285.2v8.2M515.5 285.0v8.4M516.5 284.8v8.1M517.5 285.5v7.1M518.5 285.5v8.5M519.5 284.7v8.0M520.5 284.4v8.3M521.5 284.4v8.4M522.5 281.0v12.5M523.5 280.0v15.3M524.5 279.8v16.7M525.5 280.3v16.9M526.5 281.2v19.1M527.5 281.4v17.4M528.5 282.5v16.5M529.5 282.5v16.5M530.5 282.5v16.2M531.5 282.5v16.4M532.5 281.6v19.5M533.5 283.8v16.3M534.5 280.7v18.9M535.5 277.5v21.7M536.5 275.7v21.9M537.5 275.5v18.5M538.5 275.4v14.9M539.5 275.9v10.0M540.5 275.6v5.8M541.5 273.1v9.9M542.5 274.9v9.1M543.5 274.9v13.1M544.5 273.0v16.3M545.5 276.0v13.7M546.5 276.3v13.4M547.5 277.1v12.7M548.5 281.0v9.1M549.5 283.5v6.8M550.5 282.6v7.8M551.5 282.9v9.4M552.5 283.1v8.5M553.5 283.6v9.0M554.5 283.5v9.6M555.5 284.4v8.2M556.5 284.6v8.1M557.5 283.5v9.1M558.5 283.5v9.4M559.5 283.6v9.9M560.5 284.1v9.0M561.5 287.7v5.9M562.5 287.8v7.8M563.5 287.1v7.8M564.5 286.9v7.9M565.5 284.9v8.4M566.5 285.9v6.9M567.5 284.9v7.9M568.5 284.5v10.3M569.5 286.2v10.4M570.5 285.6v10.9M571.5 286.6v10.2M572.5 286.3v10.6M573.5 288.9v8.9M574.5 290.4v8.0M575.5 289.9v10.2M576.5 290.0v8.7M577.5 289.3v9.3M578.5 288.8v9.8M579.5 289.7v8.3M580.5 290.6v6.3M581.5 287.1v8.5M582.5 287.7v8.4M583.5 286.4v9.7M584.5 284.7v10.9M585.5 283.4v13.4M586.5 283.6v12.2M587.5 283.4v9.1M588.5 280.9v11.2M589.5 280.1v10.7M590.5 279.1v9.9M591.5 278.1v10.9M592.5 277.7v11.1M593.5 277.6v9.8M594.5 278.8v7.0M595.5 278.0v8.8M596.5 278.9v7.9M597.5 279.6v9.9M598.5 280.7v9.6M599.5 279.3v11.3M600.5 280.7v8.2M601.5 281.9v7.1M602.5 282.8v6.2M603.5 281.9v7.9M604.5 280.1v11.4M605.5 280.1v9.1M606.5 282.5v6.4M607.5 282.3v7.4M608.5 282.4v9.8M609.5 283.1v9.6M610.5 284.7v8.0M611.5 284.4v9.4M612.5 284.9v7.8M613.5 284.9v7.8M614.5 284.9v9.6M615.5 284.4v10.4M616.5 286.4v8.3M617.5 287.3v5.6M618.5 287.5v5.5M619.5 286.5v6.4M620.5 286.2v6.2M621.5 285.8v6.4M622.5 284.2v7.7M623.5 284.2v7.8M624.5 285.3v6.7M625.5 286.2v5.3M626.5 286.0v5.6M627.5 284.8v6.5M628.5 285.0v7.3M629.5 285.2v7.5M630.5 285.3v7.5M631.5 285.8v6.1M632.5 285.6v7.3M633.5 285.6v7.2M634.5 287.0v7.0M635.5 287.7v6.8M636.5 288.2v6.0M637.5 286.9v7.7M638.5 288.8v7.2M639.5 286.7v8.3M640.5 287.6v8.4M641.5 287.0v7.5M642.5 284.4v9.4M643.5 285.0v8.8M644.5 284.3v9.2M645.5 283.4v9.1M646.5 283.0v8.1M647.5 282.7v7.6M648.5 281.1v8.3M649.5 280.6v8.2M650.5 280.2v8.3M651.5 281.1v7.5M652.5 281.2v7.2M653.5 281.3v8.0M654.5 280.1v9.2M655.5 282.0v7.7M656.5 282.0v7.9M657.5 281.9v8.0M658.5 281.8v8.0M659.5 280.3v8.0M660.5 281.0v8.8M661.5 281.5v9.1M662.5 281.8v9.2M663.5 280.9v10.1M664.5 282.1v10.8M665.5 282.6v9.9M666.5 282.6v8.2M667.5 282.7v8.3M668.5 283.3v7.8M669.5 282.2v8.4M670.5 283.2v7.8M671.5 283.0v8.0M672.5 283.0v7.7M673.5 282.0v9.1M674.5 282.3v8.3M675.5 282.4v8.1M676.5 281.3v7.8M677.5 282.1v7.1M678.5 283.1v5.6M679.5 283.5v5.7M680.5 282.5v6.7M681.5 283.9v5.4M682.5 283.8v5.3M683.5 282.7v9.5M684.5 282.4v9.7M685.5 283.0v9.1M686.5 283.4v8.4M687.5 281.8v10.3M688.5 284.2v6.5M689.5 284.2v7.9M690.5 284.1v7.7M691.5 284.1v6.8M692.5 281.1v9.9M693.5 281.4v9.6M694.5 281.3v8.0M695.5 283.0v7.3M696.5 282.5v9.2M697.5 282.3v7.2M698.5 282.4v6.7M699.5 282.0v8.2M700.5 280.9v10.8M701.5 279.9v10.6M702.5 280.0v9.9M703.5 276.5v11.2M704.5 275.6v11.5M705.5 273.9v13.2M706.5 272.5v13.6M707.5 272.9v12.1M708.5 272.3v10.7M709.5 271.0v11.0M710.5 270.6v9.5M711.5 272.4v6.3M712.5 271.8v6.7M713.5 271.1v8.2M714.5 270.9v7.7M715.5 270.9v7.4M716.5 269.2v9.4M717.5 268.7v10.3M718.5 269.5v8.7M719.5 272.7v5.7M720.5 273.1v5.6M721.5 273.6v6.2M722.5 272.8v7.5M723.5 272.4v9.2M724.5 267.6v14.0M725.5 257.7v23.9M726.5 256.7v23.4M727.5 254.8v24.9M728.5 254.4v23.0M729.5 254.9v18.8M730.5 254.4v14.5M731.5 255.5v6.1M732.5 252.6v8.7M733.5 253.4v7.7M734.5 253.1v8.7M735.5 252.7v8.0M736.5 251.9v8.2M737.5 251.7v7.4M738.5 251.5v7.3M739.5 251.4v8.9M740.5 252.0v7.7M741.5 251.4v7.8M742.5 249.9v7.9M743.5 251.6v6.4M744.5 250.0v9.2M745.5 250.8v6.8M746.5 251.9v5.7M747.5 251.7v6.1M748.5 250.7v7.0M749.5 252.1v5.9M750.5 251.0v6.9M751.5 252.0v7.2M752.5 252.8v6.4M753.5 251.8v7.4M754.5 251.8v7.8M755.5 252.7v6.9M756.5 252.3v7.4M757.5 253.6v6.5M758.5 252.3v7.4M759.5 252.1v7.1M760.5 251.9v7.4M761.5 251.2v7.8M762.5 251.8v7.6M763.5 251.8v8.1M764.5 250.6v9.6M765.5 252.3v8.2M766.5 251.6v7.7M767.5 249.0v11.1M768.5 245.9v13.4M769.5 241.3v17.2M770.5 238.5v19.7M771.5 237.7v20.1M772.5 237.2v18.5M773.5 238.9v14.2M774.5 238.4v11.2M775.5 238.4v8.8M776.5 239.3v8.0M777.5 239.7v8.0M778.5 239.9v9.2M779.5 239.9v11.5M780.5 239.7v11.0M781.5 239.8v11.3M782.5 240.5v10.2M783.5 242.4v8.7M784.5 240.2v12.1M785.5 238.3v12.8M786.5 237.3v14.7M787.5 237.8v14.2M788.5 237.6v13.2M789.5 236.8v11.1M790.5 235.0v11.0M791.5 235.0v8.8M792.5 234.1v11.2M793.5 236.3v11.9M794.5 235.1v16.8M795.5 237.5v19.0M796.5 238.4v23.2M797.5 241.1v23.1M798.5 242.2v24.2M799.5 245.8v20.8M800.5 249.8v16.9M801.5 254.6v12.2M802.5 258.9v8.3M803.5 259.7v8.2M804.5 259.4v8.9M805.5 260.8v7.7M806.5 262.8v6.0M807.5 263.6v7.0M808.5 262.0v8.9M809.5 263.3v7.6M810.5 261.3v8.0M811.5 261.3v8.6M812.5 261.3v8.8M813.5 264.6v6.9M814.5 265.4v6.2M815.5 265.3v5.8M816.5 264.6v6.4M817.5 262.0v9.8M818.5 261.5v10.2M819.5 261.0v8.7M820.5 261.0v11.2M821.5 261.0v11.6M822.5 262.5v9.2M823.5 264.2v6.6M824.5 264.8v8.3M825.5 264.5v8.3M826.5 264.5v9.1M827.5 264.9v9.4M828.5 265.8v8.4M829.5 266.0v8.3M830.5 266.5v6.4M831.5 266.5v6.9M832.5 266.4v5.6M833.5 266.4v5.4M834.5 266.5v8.3M835.5 266.5v5.4M836.5 266.3v7.4M837.5 266.0v6.4M838.5 265.9v6.5M839.5 265.5v6.9M840.5 263.5v9.6M841.5 266.3v7.6M842.5 266.7v9.3M843.5 265.8v8.8M844.5 266.8v9.5M845.5 264.6v9.6M846.5 265.8v8.4M847.5 265.4v8.2M848.5 264.9v8.0M849.5 264.8v7.8M850.5 265.2v7.0M851.5 263.3v8.4M852.5 262.9v9.3M853.5 262.6v13.9M854.5 262.6v17.3M855.5 263.6v19.1M856.5 262.9v20.7M857.5 264.8v19.2M858.5 269.1v15.3M859.5 272.7v11.9M860.5 276.6v7.6M861.5 278.4v5.8M862.5 276.5v8.1M863.5 276.9v9.7M864.5 274.8v13.4M865.5 271.9v16.3M866.5 268.1v18.5M867.5 264.7v22.3M868.5 261.8v23.4M869.5 260.6v20.2M870.5 257.7v19.9M871.5 254.9v19.6M872.5 254.5v16.8M873.5 254.3v14.5M874.5 254.1v12.7M875.5 249.2v12.9M876.5 231.0v29.1M877.5 195.8v65.1M878.5 168.9v91.6M879.5 168.7v91.3M880.5 167.5v89.9M881.5 168.0v85.3M882.5 168.0v74.4M883.5 167.2v44.2M884.5 168.1v26.7M885.5 170.8v23.6M886.5 176.0v19.3M887.5 181.4v12.7M888.5 167.6v27.3M889.5 166.2v29.4M890.5 166.2v28.3M891.5 166.2v27.0M892.5 166.7v24.3M893.5 157.2v32.6M894.5 156.5v20.7M895.5 153.7v21.0M896.5 152.6v22.7M897.5 141.4v31.1M898.5 141.7v30.3M899.5 141.4v25.2M900.5 140.8v20.6M901.5 137.0v24.0M902.5 134.0v25.9M903.5 133.7v17.7M904.5 134.3v13.9M905.5 129.8v16.9M906.5 123.4v22.8M907.5 119.9v21.9M908.5 118.9v22.3M909.5 118.8v22.3M910.5 118.0v31.4M911.5 119.6v42.3M912.5 119.6v43.1M913.5 118.4v44.3M914.5 119.7v42.3M915.5 121.5v40.4M916.5 122.6v38.6M917.5 121.6v39.6M918.5 123.0v33.0M919.5 122.4v44.4M920.5 122.9v43.5M921.5 124.7v41.9M922.5 124.9v41.2M923.5 134.2v31.8M924.5 145.4v23.2M925.5 150.6v16.1M926.5 150.6v15.1M927.5 150.2v14.7M928.5 147.6v14.4M929.5 149.6v16.5M930.5 149.6v15.5M931.5 149.7v15.5M932.5 149.1v15.6M933.5 150.0v14.7M934.5 150.9v14.2M935.5 150.6v14.6M936.5 152.4v12.6M937.5 154.3v10.7M938.5 156.6v10.9M939.5 156.5v9.3M940.5 156.5v8.8M941.5 155.2v9.1M942.5 154.0v8.4M943.5 151.1v13.0M944.5 150.6v11.0M945.5 151.0v10.2M946.5 151.5v9.1M947.5 151.3v9.7M948.5 152.1v8.3M949.5 150.5v9.9M950.5 151.3v7.0M951.5 151.3v7.6M952.5 150.6v10.4M953.5 151.2v11.6M954.5 151.7v10.2M955.5 151.8v10.5M956.5 152.8v12.2M957.5 152.5v10.7M958.5 152.0v11.2M959.5 151.5v10.4M960.5 151.4v11.0M961.5 151.4v9.0M962.5 151.0v9.4M963.5 152.8v6.9M964.5 152.8v6.8M965.5 152.7v7.6M966.5 149.6v8.3M967.5 152.1v5.5M968.5 151.1v6.3M969.5 150.9v7.1M970.5 148.6v9.7M971.5 149.6v9.1M972.5 149.4v9.2M973.5 149.4v7.6M974.5 151.3v6.2M975.5 151.5v6.9M976.5 147.5v11.8M977.5 140.8v18.5M978.5 136.5v22.2M979.5 133.4v24.6M980.5 131.7v25.4M981.5 130.8v24.9M982.5 130.8v21.9M983.5 132.1v14.6M984.5 131.6v8.5M985.5 129.4v9.2M986.5 127.5v11.3M987.5 125.2v13.4M988.5 127.4v10.7M989.5 121.9v15.2M990.5 116.3v21.2M991.5 114.5v20.4M992.5 114.3v19.2M993.5 112.2v21.5M994.5 112.1v19.1M995.5 112.1v20.7M996.5 115.1v16.5M997.5 114.7v18.6M998.5 103.5v29.9M999.5 102.4v31.0M1000.5 100.0v33.4M1001.5 102.0v30.5M1002.5 101.8v30.3M1003.5 99.0v28.9M1004.5 99.9v26.5M1005.5 101.0v26.0M1006.5 102.1v25.1M1007.5 104.3v22.9M1008.5 109.3v18.0M1009.5 116.9v10.6M1010.5 117.4v10.5M1011.5 114.4v13.9M1012.5 114.4v13.1M1013.5 113.5v11.4M1014.5 112.2v11.8M1015.5 111.3v12.1M1016.5 110.7v12.0M1017.5 110.2v10.4M1018.5 108.9v12.2M1019.5 108.0v11.6M1020.5 107.3v19.4M1021.5 107.2v28.7M1022.5 108.5v28.7M1023.5 107.6v30.8M1024.5 107.8v29.7M1025.5 108.9v29.0M1026.5 119.9v21.2M1027.5 131.4v8.9M1028.5 131.7v8.8M1029.5 130.5v11.4M1030.5 130.0v12.0M1031.5 129.9v8.9M1032.5 129.9v10.4M1033.5 129.9v11.6M1034.5 130.0v13.5M1035.5 129.7v19.1M1036.5 129.7v19.5M1037.5 130.0v19.7M1038.5 131.9v18.0M1039.5 135.8v16.9M1040.5 139.7v11.3M1041.5 137.3v13.6M1042.5 135.4v15.8M1043.5 133.3v17.6M1044.5 133.0v17.0M1045.5 132.2v16.8M1046.5 133.9v19.7M1047.5 134.0v22.4M1048.5 132.9v26.2M1049.5 133.4v27.1M1050.5 134.4v27.6M1051.5 141.5v22.8M1052.5 149.2v17.4M1053.5 152.0v18.0M1054.5 154.8v17.4M1055.5 156.4v16.9M1056.5 157.9v15.1M1057.5 159.6v13.0M1058.5 161.7v11.2M1059.5 164.6v9.7M1060.5 166.2v10.4M1061.5 166.0v11.2M1062.5 167.1v10.3M1063.5 167.8v9.6M1064.5 170.2v7.2M1065.5 169.7v7.8M1066.5 169.1v7.7M1067.5 169.3v8.8M1068.5 169.3v8.4M1069.5 169.0v9.1M1070.5 165.7v12.4M1071.5 167.0v11.1M1072.5 167.9v9.9M1073.5 167.9v9.3M1074.5 165.4v11.0M1075.5 166.5v10.0M1076.5 162.6v11.6M1077.5 155.8v17.0M1078.5 155.5v18.0M1079.5 155.3v16.3M1080.5 153.8v18.5M1081.5 153.4v17.1M1082.5 154.4v14.2M1083.5 153.7v7.7M1084.5 153.0v8.3M1085.5 153.2v8.1M1086.5 152.7v10.9M1087.5 150.7v11.9M1088.5 150.6v8.0M1089.5 150.7v7.5M1090.5 151.8v6.5M1091.5 149.7v9.3M1092.5 149.7v12.2M1093.5 150.1v10.9M1094.5 150.8v10.1M1095.5 151.5v10.5M1096.5 153.2v10.6M1097.5 153.8v10.9M1098.5 154.4v10.4M1099.5 154.4v15.2M1100.5 155.6v19.1M1101.5 157.1v22.9M1102.5 156.9v24.6M1103.5 158.5v25.9M1104.5 159.5v25.1M1105.5 164.7v19.9M1106.5 169.6v13.6M1107.5 167.9v14.7M1108.5 161.5v21.0M1109.5 156.5v25.7M1110.5 151.3v30.3M1111.5 150.2v30.3M1112.5 152.6v26.9M1113.5 152.4v23.0M1114.5 151.7v15.2M1115.5 149.8v26.9M1116.5 149.8v30.4M1117.5 149.9v30.7M1118.5 152.0v28.7M1119.5 152.8v28.3M1120.5 160.4v21.6M1121.5 163.9v17.5M1122.5 163.9v19.5M1123.5 163.9v20.9M1124.5 163.5v21.9M1125.5 164.0v21.5M1126.5 167.2v18.4M1127.5 168.0v17.6M1128.5 167.2v17.2M1129.5 163.5v21.4M1130.5 162.7v22.5M1131.5 162.2v19.8M1132.5 162.6v14.9M1133.5 164.9v8.2M1134.5 164.9v5.4M1135.5 157.6v12.4" fill="none" stroke="#c42a16" stroke-width="1.05"/>
<g fill="#8a8a8a" opacity="0.55">
<rect x="8" y="106.68" width="1183" height="1"/>
<rect x="8" y="198.33" width="1183" height="1"/>
<rect x="8" y="290" width="1183" height="1"/>
<rect x="8" y="381.66" width="1183" height="1"/>
</g>
<rect x="26.8" y="381" width="1.2" height="2" fill="#fff"/>
<rect x="1144.6" y="381" width="1.2" height="2" fill="#fff"/>
<circle cx="26.85" cy="246.25" r="4.65" fill="#c9101a"/>
<circle cx="1145.4" cy="129.9" r="4.65" fill="#c9101a"/>
</svg>
</body></html>
